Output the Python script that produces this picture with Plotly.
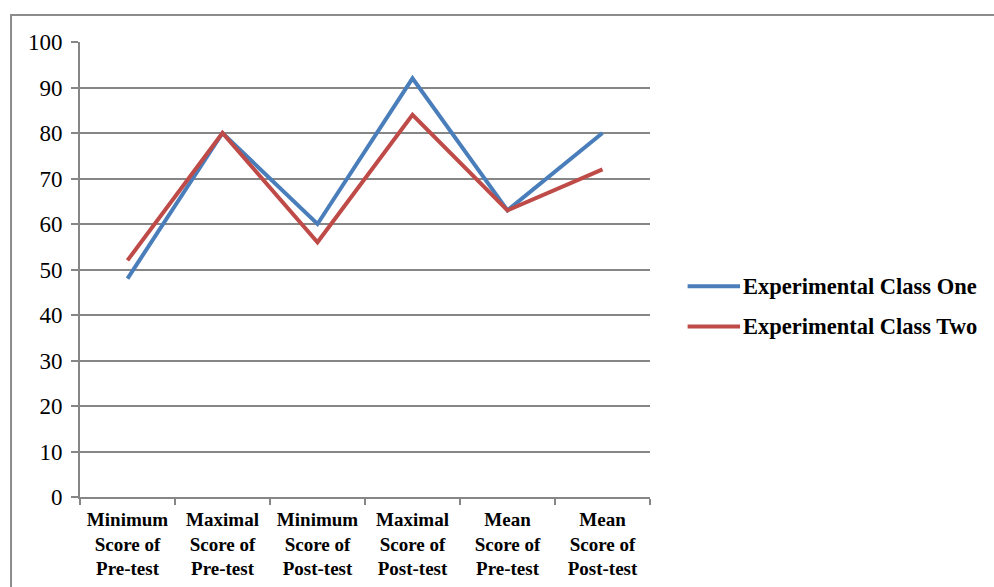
import plotly.graph_objects as go

# Score categories (x axis) and the two class series
categories = [
    "Minimum<br>Score of<br>Pre-test",
    "Maximal<br>Score of<br>Pre-test",
    "Minimum<br>Score of<br>Post-test",
    "Maximal<br>Score of<br>Post-test",
    "Mean<br>Score of<br>Pre-test",
    "Mean<br>Score of<br>Post-test",
]
series_names = ["Experimental Class One", "Experimental Class Two"]
class_one = [48, 80, 60, 92, 63, 80]
class_two = [52, 80, 56, 84, 63, 72]
y_ticks = [0, 10, 20, 30, 40, 50, 60, 70, 80, 90, 100]

colors = ["#4A7EBB", "#BE4B48"]
SERIF = "'Times New Roman', 'Liberation Serif', Tinos, serif"

fig = go.Figure()
for name, vals, col in zip(series_names, [class_one, class_two], colors):
    fig.add_trace(go.Scatter(
        x=categories, y=vals, mode="lines", name=name,
        line=dict(color=col, width=4), showlegend=False,
    ))

# Legend drawn as line samples plus labels to the right of the plot
legend_y = [0.463, 0.375]
for name, col, ly in zip(series_names, colors, legend_y):
    fig.add_shape(type="line", xref="paper", yref="paper",
                  x0=1.066, x1=1.158, y0=ly, y1=ly,
                  line=dict(color=col, width=4))
    fig.add_annotation(xref="paper", yref="paper", x=1.16, y=ly,
                       text="<b>" + name + "</b>", showarrow=False,
                       xanchor="left", yanchor="middle",
                       font=dict(family=SERIF, size=22.5, color="black"))

# Outer chart border
fig.add_shape(type="rect", xref="paper", yref="paper",
              x0=-0.121, x1=1.7, y0=-0.3, y1=1.0593,
              line=dict(color="#8C8C8C", width=2), layer="below")

fig.update_layout(
    width=994, height=587,
    margin=dict(l=80, r=344, t=42, b=90),
    paper_bgcolor="white", plot_bgcolor="white",
    font=dict(family=SERIF, color="black", size=20),
)
fig.update_xaxes(
    type="category", tickson="boundaries", ticks="outside", ticklen=6,
    tickcolor="#868686", tickwidth=2,
    showline=True, linecolor="#868686", linewidth=2,
    showgrid=False, range=[-0.5, 5.5], ticklabelstandoff=4,
    automargin=False,
    tickfont=dict(family=SERIF, size=19, color="black", weight="bold"),
)
fig.update_yaxes(
    range=[0, 100], tickvals=y_ticks, ticks="outside", ticklen=7,
    tickcolor="#868686", tickwidth=2,
    showline=True, linecolor="#868686", linewidth=2,
    showgrid=True, gridcolor="#868686", gridwidth=2,
    zeroline=False, ticklabelstandoff=4, automargin=False,
    tickfont=dict(family=SERIF, size=23, color="black", weight="normal"),
)

fig.write_html("out.html")
